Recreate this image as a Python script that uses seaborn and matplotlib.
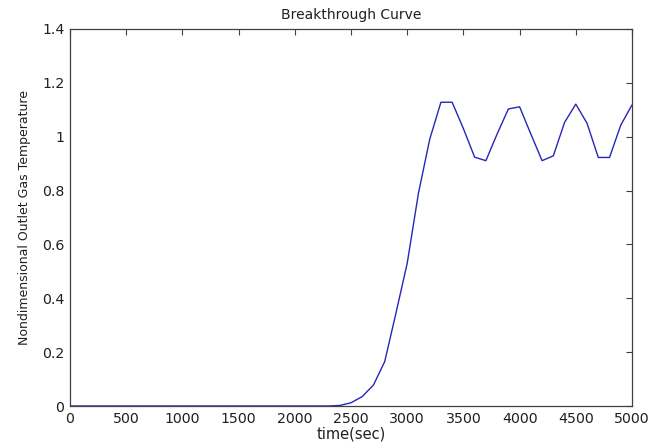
import numpy as np
import pandas as pd
import matplotlib
matplotlib.use("Agg")
import matplotlib.pyplot as plt
import seaborn as sns

# values
time_sec = [0, 100, 200, 300, 400, 500, 600, 700, 800, 900, 1000,
            1100, 1200, 1300, 1400, 1500, 1600, 1700, 1800, 1900, 2000,
            2100, 2200, 2300, 2400, 2500, 2600, 2700, 2800, 2900, 3000,
            3100, 3200, 3300, 3400, 3500, 3600, 3700, 3800, 3900, 4000,
            4100, 4200, 4300, 4400, 4500, 4600, 4700, 4800, 4900, 5000]
outlet_temp = [0.0, 0.0, 0.0, 0.0, 0.0, 0.0, 0.0, 0.0, 0.0, 0.0, 0.0,
               0.0, 0.0, 0.0, 0.0, 0.0, 0.0, 0.0, 0.0, 0.0, 0.0,
               0.0, 0.0, 0.0, 0.002, 0.012, 0.035, 0.078, 0.165, 0.345, 0.53,
               0.79, 0.99, 1.128, 1.128, 1.03, 0.924, 0.911, 1.01, 1.103, 1.111,
               1.01, 0.911, 0.929, 1.053, 1.121, 1.05, 0.923, 0.923, 1.043, 1.118]

x_ticks = [0, 500, 1000, 1500, 2000, 2500, 3000, 3500, 4000, 4500, 5000]
y_ticks = [0, 0.2, 0.4, 0.6, 0.8, 1.0, 1.2, 1.4]
y_tick_labels = ["0", "0.2", "0.4", "0.6", "0.8", "1", "1.2", "1.4"]

sns.set_style("white")
plt.rcParams["font.family"] = ["DejaVu Sans"]

df = pd.DataFrame({"time": time_sec, "temp": outlet_temp})

fig = plt.figure(figsize=(6.62, 4.48), dpi=100)
ax = fig.add_axes([70 / 662, 42 / 448, 562 / 662, 377 / 448])

sns.lineplot(data=df, x="time", y="temp", ax=ax, color="#2626b8",
             linewidth=1.0)

ax.set_xlim(0, 5000)
ax.set_ylim(0, 1.4)
ax.set_xticks(x_ticks)
ax.set_yticks(y_ticks)
ax.set_yticklabels(y_tick_labels)

for side in ["top", "right", "bottom", "left"]:
    ax.spines[side].set_visible(True)
    ax.spines[side].set_color("#404040")
    ax.spines[side].set_linewidth(0.9)

ax.tick_params(axis="both", direction="in", length=4, width=0.8,
               color="#404040", labelsize=10.2, labelcolor="#202020",
               top=True, right=True, pad=4)

ax.set_title("Breakthrough Curve", fontsize=10, color="#202020", pad=7)
ax.set_xlabel("time(sec)", fontsize=10.5, color="#202020", labelpad=1)
ax.set_ylabel("Nondimensional Outlet Gas Temperature", fontsize=9,
              color="#202020", labelpad=8)

fig.savefig("out.png", dpi=100, facecolor="white")
